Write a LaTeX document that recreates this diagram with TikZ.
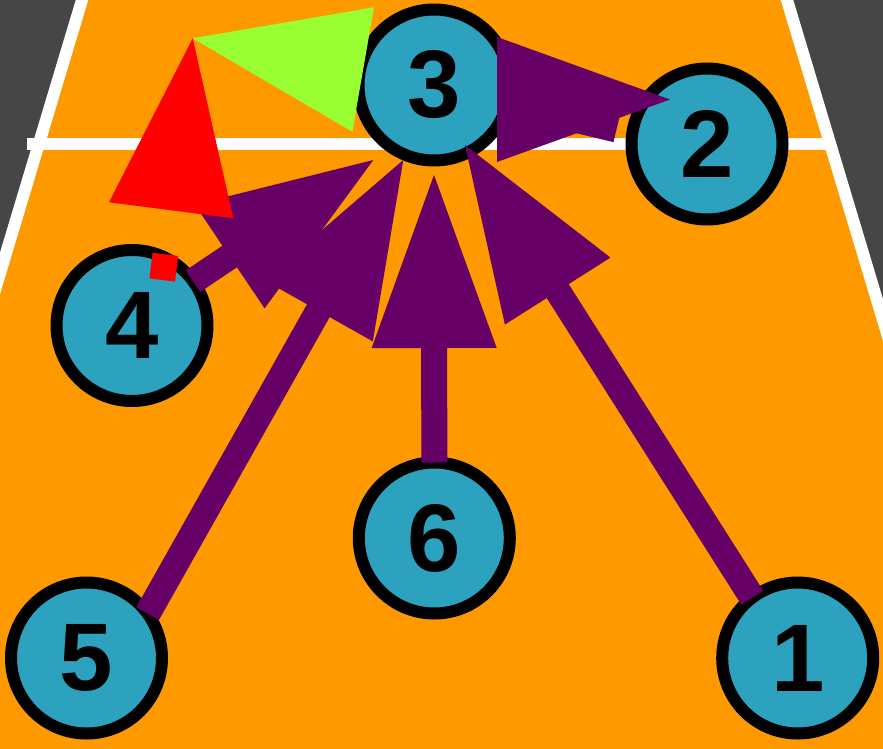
\documentclass[tikz,border=0pt]{standalone}
\usepackage{fontspec}
\setmainfont{Liberation Sans}
\usetikzlibrary{calc}
\definecolor{bgray}{RGB}{70,70,70}
\definecolor{courtc}{RGB}{255,153,0}
\definecolor{playerc}{RGB}{44,162,191}
\definecolor{arrowc}{RGB}{102,0,102}
\definecolor{limec}{RGB}{153,255,51}
\newcommand\stdarrow[2]{%
  \coordinate (hb) at ($(#2)!173pt!(#1)$);
  \draw[shaft] (#1) -- ($(hb)!2pt!(#2)$);
  \fill[head] (#2) -- ($(hb)!62.5pt!90:(#2)$) -- ($(hb)!62.5pt!-90:(#2)$) -- cycle;
}
\begin{document}
\begin{tikzpicture}[x=1pt,y=-1pt,
  player/.style={circle, draw=black, fill=playerc, line width=12pt, minimum size=151pt,
    inner sep=0pt, outer sep=0pt, font=\fontsize{96}{96}\selectfont\bfseries},
  shaft/.style={draw=arrowc, line width=26pt},
  head/.style={fill=arrowc},
  courtline/.style={draw=white, line width=12pt}]
\useasboundingbox (0,0) rectangle (883,749);
\clip (0,0) rectangle (883,749);
\fill[bgray] (0,0) rectangle (883,749);
% court
\fill[courtc] (85,-10) -- (784,-10) -- (1015,760) -- (-146,760) -- cycle;
\draw[courtline] (85,-10) -- (-146,760);
\draw[courtline] (784,-10) -- (1015,760);
\draw[courtline] (27,144) -- (828,144);
% players
\node[player] (n3) at (434,85) {3};
\node[player] (n2) at (707,144) {2};
\node[player] (n4) at (132,325.5) {4};
\node[player] (n6) at (434.3,538) {6};
\node[player] (n5) at (86.5,658) {5};
\node[player] (n1) at (797.7,658) {1};
% arrow tips
\coordinate (t6) at (434,175);
\coordinate (t1) at (465,145);
\coordinate (t4) at (373.3,160);
\coordinate (t5) at (403.3,160);
\stdarrow{n6.90}{t6}
\stdarrow{n1.127}{t1}
\stdarrow{n5.36}{t5}
\stdarrow{n4.36}{t4}
% arrow 3 -> 2
\coordinate (e32) at (616.5,129.5);
\coordinate (t2) at (670,99.5);
\coordinate (b2a) at (497,37);
\coordinate (b2b) at (497,162);
\draw[shaft] (n3.-14) -- (e32);
\fill[head] (t2) -- (b2a) -- (b2b) -- cycle;
% markers
\coordinate (ga) at (192.7,38.3);
\coordinate (gb) at (374,7.3);
\coordinate (gc) at (352.3,131.7);
\coordinate (ra) at (109,202.3);
\coordinate (rb) at (233.3,218.3);
\fill[limec] (ga) -- (gb) -- (gc) -- cycle;
\fill[red] (ga) -- (ra) -- (rb) -- cycle;
\node[fill=red, minimum size=25.8pt, inner sep=0pt, rotate=-7] (sq) at (163.8,267.2) {};
\end{tikzpicture}
\end{document}
